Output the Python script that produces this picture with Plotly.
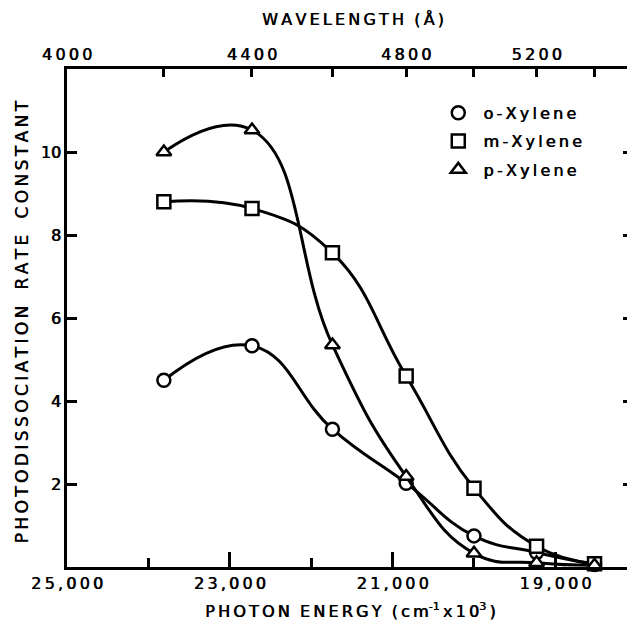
import plotly.graph_objects as go

# ---- data ----
energy = [23810, 22727, 21739, 20833, 20000, 19231, 18519]   # cm^-1
o_xylene = [4.50, 5.33, 3.32, 2.02, 0.75, 0.35, 0.06]
m_xylene = [8.80, 8.64, 7.57, 4.60, 1.90, 0.50, 0.08]
p_xylene = [10.00, 10.53, 5.35, 2.18, 0.33, 0.10, 0.04]

series_names = ["o-Xylene", "m-Xylene", "p-Xylene"]
series_symbols = ["circle", "square", "triangle-up"]

bottom_tick_vals = [25000, 23000, 21000, 19000]
bottom_tick_text = ["25,000", "23,000", "21,000", "19,000"]
bottom_minor_vals = [24000, 22000, 20000]
wavelength_major = [4000, 4400, 4800, 5200]
wavelength_text = ["4000", "4400", "4800", "5200"]
wavelength_minor = [4200, 4600, 5000, 5400]
y_tick_vals = [2, 4, 6, 8, 10]
y_tick_text = ["2", "4", "6", "8", "10"]

FONT = "DejaVu Sans"
SHADOW = "0.6px 0px 0px black"
TS = "\u2009"      # thin space used as letter spacing
NB = "\u00a0"


def spaced(s, sp=TS):
    return sp.join(s)


def font(size):
    return dict(family=FONT, size=size, color="black", shadow=SHADOW)


W, H = 627, 633
L, R, T, B = 66.5, 0, 69, 66
x_range = [25000, 18120]
y_range = [0, 12]

fig = go.Figure()

for name, sym, vals in zip(series_names, series_symbols,
                           [o_xylene, m_xylene, p_xylene]):
    fig.add_trace(go.Scatter(
        x=energy, y=vals, mode="lines+markers", name=name,
        line=dict(color="black", width=3, shape="spline", smoothing=1.3),
        marker=dict(symbol=sym, size=13, color="white",
                    line=dict(color="black", width=2.5)),
        showlegend=False, cliponaxis=False))

# legend entries (markers only)
for i, (name, sym) in enumerate(zip(series_names, series_symbols)):
    fig.add_trace(go.Scatter(
        x=[None], y=[None], mode="markers", name=NB + spaced(name),
        legendgroup=str(i),
        marker=dict(symbol=sym, size=13, color="white",
                    line=dict(color="black", width=2.5))))

# dummy trace to activate top/right axes
fig.add_trace(go.Scatter(x=[None], y=[None], xaxis="x2", yaxis="y2",
                         showlegend=False, hoverinfo="skip"))

axis_common = dict(showgrid=False, zeroline=False, linecolor="black",
                   linewidth=2.5, tickcolor="black", tickwidth=2.5,
                   tickfont=font(16))

fig.update_layout(
    width=W, height=H,
    margin=dict(l=L, r=R, t=T, b=B, pad=0),
    paper_bgcolor="white", plot_bgcolor="white",
    xaxis=dict(range=x_range, showline=True, ticks="inside", ticklen=15,
               tickmode="array", tickvals=bottom_tick_vals,
               ticktext=[spaced(t) for t in bottom_tick_text],
               minor=dict(tickmode="array", tickvals=bottom_minor_vals,
                          ticks="inside", ticklen=9, tickwidth=2.5,
                          tickcolor="black", showgrid=False),
               **axis_common),
    xaxis2=dict(range=x_range, overlaying="x", side="top", anchor="y",
                showline=True, ticks="inside", ticklen=8,
                tickmode="array", tickvals=[1e8 / w for w in wavelength_major],
                ticktext=[spaced(t) for t in wavelength_text],
                minor=dict(tickmode="array",
                           tickvals=[1e8 / w for w in wavelength_minor],
                           ticks="inside", ticklen=8, tickwidth=2.5,
                           tickcolor="black", showgrid=False),
                **axis_common),
    yaxis=dict(range=y_range, showline=True, ticks="inside", ticklen=10,
               tickmode="array", tickvals=y_tick_vals,
               ticktext=y_tick_text, **axis_common),
    yaxis2=dict(range=y_range, overlaying="y", side="right", anchor="x",
                showline=False, ticks="inside", ticklen=4,
                tickmode="array", tickvals=y_tick_vals,
                showticklabels=False, showgrid=False, zeroline=False,
                tickcolor="black", tickwidth=3),
    legend=dict(x=0.663, y=0.946, xanchor="left", yanchor="top",
                bgcolor="rgba(0,0,0,0)", borderwidth=0,
                font=font(16), tracegroupgap=4.5, traceorder="grouped"),
    showlegend=True,
)

plot_w = W - L - R
plot_h = H - T - B


def px_to_paper(px, py):
    return (px - L) / plot_w, (H - B - py) / plot_h


# axis titles as annotations
ax, ay = px_to_paper(353, 19)
fig.add_annotation(x=ax, y=ay, xref="paper", yref="paper", showarrow=False,
                   text=spaced("WAVELENGTH") + NB + NB + spaced("(Å)"),
                   font=font(16), xanchor="center", yanchor="middle")

ax, ay = px_to_paper(350, 610)
fig.add_annotation(x=ax, y=ay, xref="paper", yref="paper", showarrow=False,
                   text=spaced("PHOTON") + NB + NB + spaced("ENERGY") + NB + NB
                   + "(" + TS + "c" + TS + "m<sup>-1</sup>" + TS + "x" + TS
                   + "1" + TS + "0<sup>3</sup>" + TS + ")",
                   font=font(16), xanchor="center", yanchor="middle")

ax, ay = px_to_paper(21, 322)
fig.add_annotation(x=ax, y=ay, xref="paper", yref="paper", showarrow=False,
                   text=spaced("PHOTODISSOCIATION") + NB + NB + NB
                   + spaced("RATE") + NB + NB + NB + spaced("CONSTANT"),
                   textangle=-90, font=font(17),
                   xanchor="center", yanchor="middle")

fig.write_html("out.html")
